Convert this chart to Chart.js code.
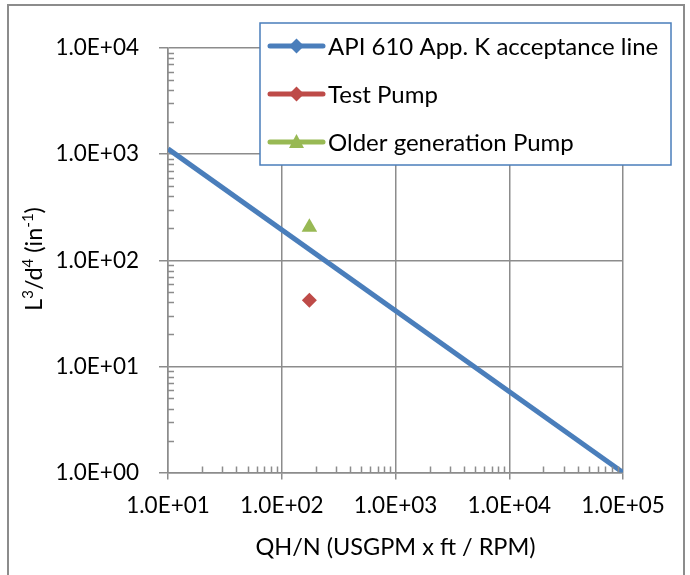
<!DOCTYPE html>
<html>
<head>
<meta charset="utf-8">
<script src="https://cdn.jsdelivr.net/npm/chart.js@4.4.0/dist/chart.umd.min.js"></script>
<style>
  html, body { margin: 0; padding: 0; background: #fff; }
  #wrap { width: 690px; height: 575px; }
</style>
</head>
<body>
<div id="wrap"><canvas id="c" width="690" height="575"></canvas></div>
<script>
// data
const lineX = [10, 100000];
const lineY = [1120, 1];
const testX = [175];
const testY = [42];
const olderX = [175];
const olderY = [205];
const xTicks = [10, 100, 1000, 10000, 100000];
const yTicks = [1, 10, 100, 1000, 10000];
const seriesNames = ['API 610 App. K acceptance line', 'Test Pump', 'Older generation Pump'];
// y title pieces: [text, superscript?]
const yTitle = [['L', false], ['3', true], ['/d', false], ['4', true], [' (in', false], ['-1', true], [')', false]];

const BLUE = '#4a7ebb', RED = '#be4b48', GREEN = '#98b954';
const GRID = '#8c8c8c';
const FONT = 'Lato, "Open Sans", sans-serif';

function sci(v) {
  const e = Math.round(Math.log10(v));
  const s = e < 0 ? '-' : '+';
  const a = Math.abs(e);
  return '1.0E' + s + (a < 10 ? '0' + a : a);
}

function pts(xs, ys) { return xs.map((x, i) => ({x: x, y: ys[i]})); }

// minor ticks on the axes, drawn inward like Excel
const minorTicks = {
  id: 'minorTicks',
  afterDatasetsDraw(chart) {
    const ctx = chart.ctx, xs = chart.scales.x, ys = chart.scales.y;
    const area = chart.chartArea;
    ctx.save();
    ctx.strokeStyle = GRID;
    ctx.lineWidth = 1.5;
    ctx.beginPath();
    for (let d = 10; d < 100000; d *= 10) {
      for (let k = 2; k <= 9; k++) {
        const px = Math.round(xs.getPixelForValue(d * k)) + 0.5;
        ctx.moveTo(px, area.bottom);
        ctx.lineTo(px, area.bottom - 6);
      }
    }
    for (let d = 1; d < 10000; d *= 10) {
      for (let k = 2; k <= 9; k++) {
        const py = Math.round(ys.getPixelForValue(d * k)) + 0.5;
        ctx.moveTo(area.left, py);
        ctx.lineTo(area.left + 6, py);
      }
    }
    ctx.stroke();
    ctx.restore();
  }
};

function drawMarker(ctx, style, x, y, color) {
  ctx.fillStyle = color;
  ctx.beginPath();
  if (style === 'tri') {
    ctx.moveTo(x, y - 8);
    ctx.lineTo(x + 7.5, y + 6);
    ctx.lineTo(x - 7.5, y + 6);
  } else {
    ctx.moveTo(x, y - 7.5);
    ctx.lineTo(x + 7.5, y);
    ctx.lineTo(x, y + 7.5);
    ctx.lineTo(x - 7.5, y);
  }
  ctx.closePath();
  ctx.fill();
}

// y axis title with real superscripts
function drawYTitle(ctx, cx, cy) {
  const big = '23.5px ' + FONT, small = '15px ' + FONT;
  let w = 0;
  yTitle.forEach(p => { ctx.font = p[1] ? small : big; w += ctx.measureText(p[0]).width; });
  ctx.save();
  ctx.translate(cx, cy);
  ctx.rotate(-Math.PI / 2);
  ctx.fillStyle = '#000';
  ctx.textBaseline = 'alphabetic';
  let x = -w / 2;
  const base = 8;
  yTitle.forEach(p => {
    ctx.font = p[1] ? small : big;
    ctx.fillText(p[0], x, p[1] ? base - 9 : base);
    x += ctx.measureText(p[0]).width;
  });
  ctx.restore();
}

// Excel style legend box + outer frame
const frame = {
  id: 'frame',
  afterDraw(chart) {
    const ctx = chart.ctx;
    ctx.save();
    ctx.strokeStyle = GRID;
    ctx.lineWidth = 2;
    ctx.strokeRect(8, 5, 676, 600);

    drawYTitle(ctx, 34, 259);

    ctx.fillStyle = '#fff';
    ctx.fillRect(260, 23, 411, 142);
    ctx.strokeStyle = BLUE;
    ctx.lineWidth = 1.5;
    ctx.strokeRect(260, 23, 411, 142);

    const cols = [BLUE, RED, GREEN];
    const marks = ['dia', 'dia', 'tri'];
    const rows = [46, 94, 142];
    ctx.font = '24px ' + FONT;
    ctx.textBaseline = 'middle';
    rows.forEach((ry, i) => {
      ctx.strokeStyle = cols[i];
      ctx.lineWidth = 5;
      ctx.lineCap = 'round';
      ctx.beginPath();
      ctx.moveTo(270, ry);
      ctx.lineTo(323, ry);
      ctx.stroke();
      drawMarker(ctx, marks[i], 296.5, ry, cols[i]);
      ctx.fillStyle = '#000';
      ctx.fillText(seriesNames[i], 328, ry + 1);
    });
    ctx.restore();
  }
};

const ctx = document.getElementById('c');
new Chart(ctx, {
  type: 'scatter',
  data: {
    datasets: [
      {
        label: seriesNames[0],
        data: pts(lineX, lineY),
        showLine: true,
        borderColor: BLUE,
        backgroundColor: BLUE,
        borderWidth: 5,
        pointRadius: 0,
        order: 3
      },
      {
        label: seriesNames[1],
        data: pts(testX, testY),
        pointStyle: 'rectRot',
        pointRadius: 7.5,
        backgroundColor: RED,
        borderColor: RED,
        borderWidth: 0,
        order: 1
      },
      {
        label: seriesNames[2],
        data: pts(olderX, olderY),
        pointStyle: 'triangle',
        pointRadius: 9,
        backgroundColor: GREEN,
        borderColor: GREEN,
        borderWidth: 0,
        order: 2
      }
    ]
  },
  options: {
    responsive: false,
    animation: false,
    layout: { padding: { left: 10, right: 67, top: 48, bottom: 8 } },
    plugins: {
      legend: { display: false },
      tooltip: { enabled: false }
    },
    scales: {
      x: {
        type: 'logarithmic',
        min: 10,
        max: 100000,
        afterBuildTicks: s => { s.ticks = xTicks.map(v => ({value: v})); },
        afterFit: s => { s.height = 94.5; },
        grid: { color: GRID, lineWidth: 1.5, tickLength: 7, tickColor: GRID },
        border: { color: GRID, width: 1.5 },
        ticks: {
          color: '#000',
          font: { family: FONT, size: 22.5 },
          padding: 13,
          maxRotation: 0,
          autoSkip: false,
          callback: v => sci(v)
        },
        title: {
          display: true,
          text: 'QH/N (USGPM x ft / RPM)',
          color: '#000',
          font: { family: FONT, size: 23.5 },
          padding: { top: 4, bottom: 5 }
        }
      },
      y: {
        type: 'logarithmic',
        min: 1,
        max: 10000,
        afterBuildTicks: s => { s.ticks = yTicks.map(v => ({value: v})); },
        afterFit: s => { s.width = 158; },
        grid: { color: GRID, lineWidth: 1.5, tickLength: 9, tickColor: GRID },
        border: { color: GRID, width: 1.5 },
        ticks: {
          color: '#000',
          font: { family: FONT, size: 22.5 },
          padding: 20,
          autoSkip: false,
          callback: v => sci(v)
        },
        title: { display: false }
      }
    }
  },
  plugins: [minorTicks, frame]
});
</script>
</body>
</html>
